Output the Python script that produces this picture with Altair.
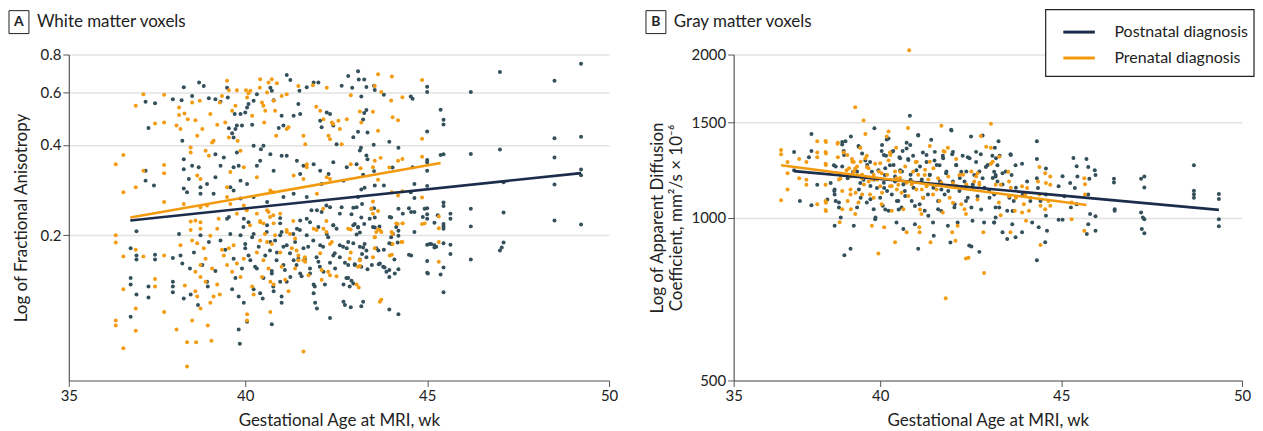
import altair as alt
import pandas as pd

FONT = "Lato"
DOT_POST = "#33505b"
DOT_PRE = "#f39c12"
LINE_POST = "#1b2d4b"
LINE_PRE = "#f29a0e"
GROUPS = ["Postnatal diagnosis", "Prenatal diagnosis"]

# Panel A - white matter voxels, (gestational age wk, fractional anisotropy)
wm_post = [
    (37.26, .557), (37.52, .550), (37.34, .455), (37.26, .328), (37.26, .304), (37.49, .293), (38.01, .568),
    (38.25, .563), (38.31, .622), (38.54, .582), (38.73, .646), (38.86, .628), (39.0, .572), (39.18, .568),
    (39.32, .557), (39.5, .620), (39.52, .575), (39.55, .454), (39.64, .437), (39.68, .423), (39.73, .452),
    (39.71, .507), (39.77, .464), (39.87, .507), (39.91, .464), (40.0, .513), (40.05, .533), (40.09, .547),
    (40.19, .467), (40.23, .561), (40.32, .590), (40.43, .387), (40.5, .397), (40.69, .620), (40.73, .606),
    (40.78, .563), (40.92, .455), (41.0, .500), (41.05, .464), (41.14, .684), (41.24, .658), (41.33, .500),
    (41.46, .547), (41.51, .507), (41.49, .606), (41.69, .622), (41.88, .646), (42.01, .646), (42.06, .481),
    (42.1, .458), (42.24, .513), (42.33, .507), (42.42, .464), (42.51, .402), (42.65, .630), (42.83, .678),
    (38.27, .413), (38.31, .358), (38.31, .332), (38.45, .308), (38.54, .341), (38.72, .337), (38.77, .289),
    (38.95, .296), (39.18, .372), (39.18, .312), (39.32, .341), (39.41, .363), (39.59, .289), (39.68, .337),
    (39.77, .377), (39.82, .341), (39.87, .304), (40.05, .296), (40.23, .397), (40.32, .341), (40.41, .354),
    (40.69, .372), (40.78, .328), (41.0, .368), (41.14, .368), (41.42, .354), (41.51, .320), (41.6, .341),
    (41.88, .345), (42.06, .328), (42.1, .296), (42.29, .320), (42.42, .350), (42.7, .304), (42.79, .337),
    (38.31, .286), (38.4, .278), (38.77, .275), (39.13, .275), (39.68, .282), (39.87, .265), (40.23, .268),
    (40.6, .258), (41.05, .268), (41.33, .275), (41.69, .268), (41.97, .242), (42.33, .248), (42.6, .236),
    (36.85, .181), (36.85, .144), (36.85, .137), (36.85, .107), (37.01, .206), (37.01, .171), (37.01, .166),
    (37.01, .127), (37.34, .135), (37.34, .124), (37.52, .172), (37.52, .166), (38.01, .168), (38.01, .140),
    (38.01, .135), (38.01, .129), (38.18, .202), (38.22, .171), (38.27, .161), (38.31, .123), (38.48, .155),
    (38.5, .127), (38.59, .175), (38.7, .117), (38.77, .200), (38.82, .159), (38.95, .140), (38.97, .135),
    (39.0, .190), (39.18, .152), (39.32, .192), (39.45, .179), (39.5, .227), (39.59, .202), (39.64, .132),
    (39.68, .167), (39.73, .144), (39.82, .125), (39.87, .200), (39.91, .155), (39.96, .119), (40.0, .181),
    (39.82, .097), (39.85, .087), (40.05, .103), (40.09, .221), (40.14, .165), (40.19, .197), (40.23, .132),
    (40.32, .155), (40.37, .183), (40.48, .123), (40.5, .144), (40.55, .171), (40.6, .216), (40.69, .190),
    (40.73, .152), (40.73, .101), (40.78, .130), (40.87, .175), (40.96, .200), (40.96, .140), (41.0, .125),
    (41.0, .119), (41.05, .159), (41.14, .185), (41.24, .145), (41.33, .165), (41.42, .210), (41.46, .167),
    (41.51, .149), (41.6, .181), (41.69, .200), (41.78, .155), (41.88, .137), (41.88, .128), (41.92, .119),
    (41.97, .114), (42.01, .163), (42.06, .185), (42.15, .151), (42.24, .202), (42.33, .106), (42.42, .171),
    (42.47, .155), (42.51, .210), (42.6, .185), (42.7, .137), (42.7, .120), (42.74, .117), (42.79, .181),
    (42.83, .159), (42.83, .144), (39.55, .230), (39.96, .227), (40.96, .228), (41.51, .224), (41.78, .221),
    (42.42, .216),
    (39.95, .213), (40.0, .187), (40.09, .171), (40.23, .202), (40.27, .157), (40.41, .128), (40.59, .205),
    (40.68, .178), (40.73, .149), (40.77, .135), (40.82, .192), (40.86, .165), (40.96, .219), (41.0, .205),
    (41.05, .183), (41.09, .153), (41.14, .140), (41.23, .174), (41.32, .202), (41.37, .190), (41.41, .159),
    (41.5, .208), (41.55, .146), (41.64, .167), (41.69, .227), (41.73, .183), (41.78, .149), (41.82, .242),
    (41.87, .192), (41.91, .135), (41.96, .169), (42.01, .213), (42.05, .157), (42.1, .239), (42.14, .183),
    (42.19, .137), (42.23, .251), (42.28, .197), (42.33, .162), (42.42, .216), (42.46, .174), (42.6, .169),
    (42.65, .248), (42.69, .183), (42.74, .162), (42.78, .144), (42.83, .190), (42.87, .135), (42.97, .216),
    (43.01, .159), (43.06, .248), (43.1, .213), (43.15, .183), (43.19, .157), (43.24, .120), (43.28, .187),
    (43.33, .169), (43.42, .227), (43.47, .245), (43.51, .213), (43.6, .181), (43.7, .161), (43.79, .157),
    (43.88, .151), (43.97, .230), (44.02, .187), (44.06, .202), (44.11, .149), (44.15, .213), (44.33, .236),
    (44.56, .171), (44.56, .239), (44.88, .230), (44.93, .245), (45.02, .149), (45.07, .187), (45.11, .187),
    (45.29, .233), (45.25, .183),
    (43.10, .704), (43.12, .661), (43.27, .661), (43.33, .624), (43.54, .630), (43.56, .609), (42.94, .620),
    (43.19, .580), (43.81, .588), (43.27, .511), (43.33, .523), (43.24, .486), (43.10, .442), (43.36, .440),
    (42.97, .424), (43.53, .400), (43.96, .410), (43.18, .391), (43.15, .383), (43.33, .369), (43.36, .358),
    (43.06, .345), (43.24, .318), (43.54, .327), (44.05, .336), (44.21, .391), (43.81, .293), (43.56, .293),
    (43.28, .288), (43.10, .268), (43.19, .284), (42.97, .247), (43.21, .254), (42.92, .235), (43.01, .218),
    (43.19, .229), (43.27, .218), (43.15, .204), (43.54, .246), (43.56, .229), (43.56, .212), (43.69, .214),
    (44.01, .229), (44.21, .245), (44.21, .207), (44.21, .199), (44.19, .189), (43.96, .188), (44.01, .197),
    (43.81, .179), (43.66, .178), (43.24, .182), (43.33, .178), (42.97, .188), (43.01, .160), (43.15, .166),
    (42.92, .141), (42.97, .138), (43.19, .116), (42.90, .115), (43.96, .153), (43.83, .156), (43.67, .160),
    (43.96, .145), (43.96, .113), (44.21, .154), (44.21, .109), (44.10, .166), (43.48, .159), (43.36, .154),
    (43.21, .173), (43.06, .201), (43.10, .212),
    (49.23, .745), (49.23, .426), (49.23, .331), (49.23, .317), (49.23, .217),
    (48.5, .654), (48.5, .421), (48.5, .363), (48.5, .295), (48.5, .224),
    (47.0, .699), (47.0, .386), (47.1, .300), (47.1, .238), (47.0, .178), (47.1, .189), (47.05, .182),
    (46.2, .600), (46.2, .373), (46.2, .245), (46.2, .214), (46.2, .166),
    (45.64, .236), (45.64, .227), (45.64, .186), (45.64, .173),
    (45.45, .468), (45.45, .485), (45.45, .372), (45.45, .257), (45.45, .250), (45.45, .218), (45.45, .214),
    (45.45, .210), (45.45, .188), (45.45, .156), (45.45, .129), (45.37, .524), (45.37, .370), (45.37, .148),
    (45.0, .625), (45.0, .600), (45.0, .443), (45.0, .356), (45.0, .350), (45.0, .328), (45.0, .292),
    (45.0, .246), (45.0, .235), (45.0, .227), (45.0, .186), (45.0, .164), (45.0, .150),
    (45.2, .220), (45.2, .185), (45.2, .182),
    (44.55, .580), (44.6, .570), (44.6, .337), (44.65, .296), (44.55, .278), (44.65, .266), (44.5, .246),
    (44.65, .239), (44.65, .205), (44.5, .172),
]

wm_pre = [
    (36.44, .345), (36.65, .370), (36.65, .278), (36.99, .540), (36.99, .289), (37.2, .590), (37.2, .328),
    (37.52, .471), (37.77, .588), (37.77, .475), (37.77, .343), (37.77, .322), (37.77, .258), (38.18, .533),
    (38.18, .503), (38.11, .464), (38.22, .452), (38.33, .509), (38.42, .487), (38.5, .392), (38.5, .377),
    (38.54, .554), (38.63, .483), (38.75, .561), (38.82, .452), (38.68, .429), (38.68, .316), (38.77, .308),
    (38.91, .382), (39.04, .507), (39.0, .368), (39.09, .407), (39.13, .413), (39.23, .467), (39.3, .554),
    (39.36, .582), (39.45, .475), (39.5, .654), (39.55, .608), (39.55, .423), (39.59, .325), (39.5, .289),
    (39.64, .520), (39.73, .540), (39.77, .608), (39.79, .413), (39.87, .382), (39.96, .337), (40.02, .608),
    (40.05, .575), (40.09, .594), (40.14, .606), (40.19, .500), (40.32, .312), (40.41, .662), (40.4, .620),
    (40.46, .554), (40.5, .540), (40.55, .520), (40.52, .475), (40.6, .598), (40.64, .646), (40.73, .662),
    (40.78, .561), (40.82, .520), (40.87, .642), (40.85, .429), (41.0, .582), (41.14, .590), (41.14, .452),
    (41.19, .458), (41.46, .628), (41.6, .429), (41.65, .402), (41.69, .337), (41.86, .632), (41.95, .536),
    (42.06, .520), (42.15, .487), (42.24, .620), (42.29, .429), (42.33, .418), (42.38, .475), (42.42, .469),
    (42.56, .481), (42.6, .452), (42.65, .402), (42.79, .487),
    (38.31, .254), (38.77, .248), (38.95, .251), (39.5, .268), (39.59, .254), (39.77, .236), (39.96, .251),
    (40.32, .236), (40.6, .242), (40.69, .282), (40.78, .278), (40.96, .236), (41.33, .316), (41.6, .308),
    (41.69, .345), (41.97, .275), (42.24, .312), (42.33, .308),
    (36.44, .200), (36.44, .189), (36.65, .170), (36.65, .132), (36.44, .104), (36.44, .100), (36.99, .179),
    (36.99, .114), (36.99, .096), (36.65, .084), (37.2, .170), (37.52, .143), (37.52, .135), (37.77, .171),
    (37.77, .111), (38.11, .097), (38.4, .088), (38.65, .088), (38.4, .073), (38.54, .104), (38.97, .100),
    (39.07, .089), (38.34, .136), (38.22, .185), (38.5, .222), (38.5, .208), (38.63, .224), (38.54, .192),
    (38.68, .188), (38.77, .221), (38.86, .181), (38.77, .210), (38.91, .167), (38.77, .159), (38.63, .151),
    (38.77, .145), (38.91, .140), (38.63, .130), (38.68, .125), (38.77, .114), (39.04, .119), (39.13, .125),
    (39.3, .127), (39.23, .137), (39.09, .155), (39.04, .199), (39.23, .210), (39.36, .179), (39.41, .171),
    (39.5, .159), (39.55, .181), (39.64, .151), (39.68, .185), (39.77, .161), (39.87, .145), (39.96, .167),
    (40.05, .109), (40.05, .104), (40.19, .135), (40.23, .127), (40.32, .175), (40.41, .192), (40.46, .145),
    (40.5, .165), (40.6, .190), (40.64, .155), (40.69, .140), (40.69, .111), (40.78, .137), (40.82, .200),
    (40.96, .175), (41.0, .157), (41.1, .142), (41.14, .205), (41.19, .130), (41.28, .181), (41.37, .155),
    (41.46, .171), (41.6, .082), (41.65, .163), (41.74, .147), (41.88, .210), (42.06, .174), (42.1, .142),
    (42.15, .210), (42.33, .147), (42.38, .190), (39.27, .227), (40.41, .221), (40.78, .219),
    (40.04, .242), (40.13, .216), (40.41, .223), (40.5, .219), (40.54, .202), (40.64, .239), (40.68, .230),
    (40.73, .187), (40.77, .233), (41.14, .208), (41.23, .202), (41.32, .223), (41.37, .195), (41.41, .178),
    (41.46, .165), (41.6, .165), (41.64, .169), (41.96, .208), (42.1, .153), (42.14, .245), (42.23, .223),
    (42.23, .205), (42.28, .151), (42.33, .187), (42.51, .146), (42.83, .210), (42.87, .167), (43.06, .137),
    (43.1, .157), (43.15, .165), (43.47, .245), (43.56, .197), (43.6, .205), (43.7, .208), (44.02, .205),
    (44.15, .219), (44.33, .219), (44.29, .190), (43.97, .171), (43.7, .120), (44.93, .219),
    (43.65, .688), (44.03, .676), (43.56, .628), (43.74, .600), (42.9, .585), (44.01, .562), (43.15, .517),
    (43.51, .516), (43.19, .475), (44.05, .494), (44.2, .483), (43.65, .446), (42.9, .345), (43.17, .334),
    (43.56, .354), (43.72, .362), (43.51, .337), (44.2, .354), (43.96, .336), (43.65, .306), (43.51, .259),
    (43.65, .241), (43.51, .236), (44.03, .278), (44.2, .271), (42.9, .209), (43.65, .209), (43.74, .205),
    (43.56, .197), (44.05, .202), (44.19, .218), (43.56, .181), (43.51, .169), (44.05, .187), (44.03, .172),
    (42.9, .175), (43.15, .165), (43.15, .158), (43.12, .134), (43.74, .122),
    (45.32, .231), (45.32, .211), (45.32, .190), (45.32, .163),
    (44.86, .658), (44.86, .419), (44.86, .365), (44.86, .267), (44.86, .218),
    (44.32, .576), (44.32, .359), (44.32, .280), (44.32, .219), (44.32, .190),
]

# Panel B - gray matter voxels, (gestational age wk, ADC mm2/s x 10^-6)
gm_post = [
    (37.62, 1321), (37.62, 1223), (37.78, 1073), (38.03, 1292), (38.1, 1426), (38.1, 1054), (38.1, 1327),
    (38.26, 1150), (38.54, 1080), (38.63, 1158), (38.72, 1249), (38.74, 1126), (38.74, 1103), (38.74, 966),
    (38.86, 1066), (38.95, 1364), (38.99, 1327), (39.01, 852), (39.04, 1383), (39.1, 1182), (39.18, 876),
    (39.19, 1412), (39.25, 1215), (39.27, 966), (39.36, 1044), (39.4, 1355), (39.45, 1158), (39.54, 1174),
    (39.59, 1274), (39.63, 1066), (39.72, 1266), (39.77, 1215), (39.82, 1036), (39.84, 1461), (39.86, 993),
    (39.91, 1134), (39.95, 1223), (40.0, 1088), (40.04, 1327), (40.07, 1051), (40.11, 1134), (40.13, 1198),
    (40.16, 1300), (40.18, 1394), (40.23, 1029), (40.27, 1249), (40.32, 1103), (40.36, 1327), (40.41, 1166),
    (40.45, 979), (40.5, 1073), (40.53, 1292), (40.55, 1223), (40.59, 1044), (40.62, 1327), (40.64, 952),
    (40.68, 1119), (40.73, 1374), (40.77, 1283), (40.82, 1541), (40.84, 1174), (40.87, 1073), (40.91, 1300),
    (40.96, 972), (41.0, 1223), (41.05, 1420), (41.05, 876), (41.09, 1058), (41.14, 1166), (41.18, 1318),
    (41.23, 1029), (41.28, 1266), (41.32, 1103), (41.37, 1198), (41.41, 1392), (41.46, 979), (41.5, 1274),
    (41.55, 1150), (41.6, 1036), (41.64, 1249), (41.69, 1126), (41.73, 1300), (41.78, 1103), (41.82, 1207),
    (41.87, 966), (41.96, 1452), (41.99, 1309), (42.01, 1166), (42.05, 1044), (42.1, 1249), (42.14, 979),
    (42.19, 1119), (42.24, 1215), (42.28, 1300), (42.33, 1166), (42.37, 1073), (42.42, 1292), (42.46, 888),
    (42.51, 1412), (42.55, 986), (42.6, 1198), (42.65, 1266), (42.69, 1095), (42.74, 864), (42.78, 1309),
    (42.83, 1182), (42.87, 979), (42.92, 1240), (43.01, 1119), (43.1, 1300), (43.15, 979), (43.19, 1198),
    (43.24, 1249), (41.48, 925), (41.94, 899), (42.52, 884),
    (38.95, 1379), (39.0, 1304), (38.95, 1242), (38.77, 1242), (38.73, 1119), (38.77, 1073), (38.86, 1043),
    (38.91, 1000), (39.41, 1351), (39.5, 1313), (39.36, 1216), (39.41, 1127), (39.46, 1088), (39.64, 1250),
    (39.73, 1143), (39.73, 1081), (39.82, 1175), (39.87, 1000), (40.05, 1361), (40.1, 1304), (40.14, 1233),
    (40.1, 1159), (40.19, 1119), (40.14, 1035), (40.23, 1399), (40.32, 1322), (40.37, 1250), (40.41, 1191),
    (40.46, 1073), (40.51, 1035), (40.55, 1286), (40.6, 1216), (40.64, 1151), (40.69, 1096), (40.73, 1341),
    (40.78, 1277), (40.83, 1361), (40.84, 1200), (40.92, 1135), (40.96, 1050), (41.05, 1418), (41.1, 1242),
    (41.15, 1175), (41.19, 1088), (41.28, 1304), (41.33, 1007), (41.37, 1200), (41.47, 1135), (41.51, 1322),
    (41.56, 1250), (41.6, 1073), (41.65, 1167), (41.69, 1028), (41.74, 1286), (41.83, 1216), (41.88, 1119),
    (41.97, 1448), (42.01, 1322), (42.06, 1058), (42.1, 1250), (42.2, 1183), (42.24, 1135), (42.38, 1216),
    (42.42, 1088), (42.47, 1286), (42.52, 1043), (42.56, 1151), (42.65, 1322), (42.74, 1216), (42.79, 1035),
    (42.83, 1418), (42.88, 1135), (42.97, 1250), (43.02, 1088), (43.11, 1183), (43.2, 1286), (43.29, 1043),
    (43.38, 1151), (43.47, 1216), (43.57, 1088), (43.61, 1304), (43.66, 1028), (43.75, 1135),
    (43.27, 1383), (43.17, 1346), (43.3, 1300), (43.15, 1215), (43.19, 1190), (43.24, 1166), (43.38, 1207),
    (43.15, 1103), (43.19, 1044), (43.15, 979), (43.19, 1000), (43.38, 939), (43.51, 1029), (43.51, 913),
    (43.6, 1309), (43.63, 1198), (43.65, 972), (43.69, 1073), (43.74, 1249), (43.74, 919), (43.92, 1257),
    (43.92, 939), (43.94, 1103), (44.06, 1166), (44.15, 1073), (44.2, 979), (44.33, 1383), (44.33, 1283),
    (44.33, 1182), (44.36, 1134), (44.38, 959), (44.43, 1073), (44.56, 900), (44.33, 834), (44.58, 1232),
    (44.58, 1103), (44.61, 945), (44.58, 1008), (44.93, 1142), (44.93, 990), (45.04, 1192), (45.04, 990),
    (45.09, 1095), (45.25, 1158), (45.27, 1044), (45.34, 1288), (45.38, 1134), (45.43, 1244), (45.43, 1058),
    (45.45, 1190), (45.7, 1283), (45.75, 1240), (45.78, 1179), (45.75, 1103), (45.8, 1015), (45.75, 972),
    (45.71, 932), (45.93, 1223), (45.95, 1198), (45.95, 945), (45.95, 1005),
    (46.46, 1179), (46.46, 1160), (46.48, 1036), (46.48, 1029),
    (47.21, 1179), (47.3, 1190), (47.3, 1136), (47.21, 1022), (47.26, 1000), (47.3, 993), (47.23, 952),
    (47.3, 935), (48.67, 1249), (48.67, 1120), (48.67, 1104), (48.67, 1088),
    (49.36, 1105), (49.36, 1082), (49.36, 993), (49.36, 963),
]

gm_pre = [
    (37.26, 1332), (37.26, 1309), (37.26, 1076), (37.44, 1266), (37.44, 1207), (37.44, 1126), (37.76, 1283),
    (37.76, 1182), (37.96, 1266), (37.96, 1174), (37.96, 1150), (38.26, 1383), (38.26, 1318), (38.26, 1292),
    (38.26, 1058), (38.49, 1385), (38.49, 1321), (38.49, 1257), (38.49, 1150), (38.49, 1073), (38.49, 1033),
    (38.83, 1374), (38.83, 1292), (38.9, 1182), (38.88, 980), (38.95, 1119), (38.95, 1036), (38.99, 1318),
    (39.07, 1223), (39.1, 1073), (39.18, 1126), (39.18, 1103), (39.22, 1283), (39.19, 1036), (39.27, 1266),
    (39.31, 1599), (39.31, 1232), (39.31, 1015), (39.36, 1198), (39.4, 1066), (39.45, 1346), (39.5, 1182),
    (39.5, 1103), (39.54, 1511), (39.59, 1426), (39.63, 1300), (39.63, 1240), (39.68, 1166), (39.72, 1103),
    (39.77, 966), (39.82, 1198), (39.86, 1257), (39.91, 1174), (39.95, 858), (40.0, 1142), (40.04, 1207),
    (40.04, 1058), (40.11, 959), (40.18, 1412), (40.23, 1442), (40.23, 1274), (40.27, 1318), (40.27, 1142),
    (40.32, 1029), (40.41, 900), (40.44, 1346), (40.45, 1182), (40.5, 1150), (40.55, 1215), (40.59, 1111),
    (40.64, 1036), (40.73, 939), (40.77, 1463), (40.87, 1166), (40.91, 1215), (40.98, 1266), (41.0, 1126),
    (41.08, 959), (41.09, 939), (41.14, 1015), (41.18, 1088), (41.23, 1198), (41.28, 1142), (41.37, 1355),
    (41.39, 900), (41.46, 1103), (41.5, 1150), (41.6, 1182), (41.64, 1073), (41.69, 1477), (41.73, 1022),
    (41.75, 1327), (41.87, 1346), (41.92, 1088), (41.99, 939), (42.01, 1158), (42.1, 1283), (42.14, 966),
    (42.19, 1198), (42.24, 1058), (42.33, 1036), (42.37, 1015), (42.37, 840), (42.44, 843), (42.55, 1134),
    (42.6, 1166), (42.69, 1207), (42.69, 1080), (42.74, 1150), (42.78, 1415), (42.85, 939), (42.87, 790),
    (43.06, 1490), (43.06, 1346), (43.06, 1257), (43.19, 1150), (40.8, 2037), (41.81, 709), (42.08, 906),
    (38.5, 1379), (38.5, 1313), (38.5, 1250), (38.5, 1065), (38.5, 1028), (38.82, 1369), (38.86, 1175),
    (39.09, 1304), (39.14, 1233), (39.18, 1191), (39.23, 1268), (39.27, 1216), (39.32, 1111), (39.36, 1242),
    (39.46, 1268), (39.5, 1200), (39.55, 1151), (39.59, 1286), (39.68, 1233), (39.78, 1175), (39.82, 1088),
    (39.96, 1216), (40.0, 1259), (40.05, 1111), (40.19, 1200), (40.28, 1304), (40.32, 1143), (40.41, 1216),
    (40.46, 1127), (40.55, 1183), (40.69, 1242), (40.73, 1159), (40.78, 1096), (40.87, 1151), (41.01, 1268),
    (41.05, 1200), (41.1, 1035), (41.15, 1127), (41.24, 1225), (41.33, 1175), (41.37, 1268), (41.47, 1233),
    (41.56, 1127), (41.69, 1159), (41.78, 1322), (41.88, 1191), (42.01, 1065), (42.1, 1143), (42.29, 1200),
    (42.38, 1151), (42.52, 1216), (42.65, 1191), (42.74, 1159), (42.93, 1351), (43.11, 1268), (43.29, 1295),
    (43.61, 1135), (43.75, 1088),
    (43.33, 1150), (43.28, 1066), (43.33, 1010), (43.54, 1215), (43.56, 1166), (43.56, 1095), (43.6, 939),
    (43.72, 1029), (43.92, 1142), (43.92, 1022), (43.97, 1058), (44.01, 1103), (44.03, 986), (44.06, 1134),
    (44.11, 1029), (44.15, 1088), (44.36, 1166), (44.4, 1240), (44.4, 1103), (44.43, 1051), (44.43, 890),
    (44.56, 1207), (44.58, 1158), (44.56, 1036), (44.65, 1073), (44.7, 1150), (44.7, 1190), (44.7, 1051),
    (45.29, 1066), (45.29, 993), (45.64, 1182), (45.66, 1152), (45.64, 945), (45.66, 1103),
]

# fitted regression lines, end points
wm_fit_post = [(36.84, 0.224), (49.23, 0.322)]
wm_fit_pre = [(36.84, 0.229), (45.37, 0.348)]
gm_fit_post = [(37.62, 1218), (49.36, 1033)]
gm_fit_pre = [(37.26, 1249), (45.70, 1055)]


def frame(post, pre):
    rows = [(g, v, GROUPS[0]) for g, v in post] + [(g, v, GROUPS[1]) for g, v in pre]
    return pd.DataFrame(rows, columns=["ga", "val", "group"])


def x_axis(first):
    return alt.Axis(values=[first, 40, 45, 50], labelExpr="datum.value < 36 ? '35' : format(datum.value, 'd')",
                    grid=False, labelFlush=False, title="Gestational Age at MRI, wk", titlePadding=9)


def panel(points, fits, xdom, ydom, yticks, yfmt, ytitle, ypad, width, letter, heading, tag_x, legend):
    xs = alt.Scale(domain=xdom, nice=False, zero=False)
    ys = alt.Scale(type="log", domain=ydom, nice=False)
    dots = alt.Chart(points).mark_circle(size=16, opacity=1).encode(
        x=alt.X("ga:Q", scale=xs, axis=x_axis(xdom[0])),
        y=alt.Y("val:Q", scale=ys, axis=alt.Axis(values=yticks, format=yfmt, labelOverlap=False,
                                                   title=ytitle, titlePadding=ypad)),
        color=alt.Color("group:N", scale=alt.Scale(domain=GROUPS, range=[DOT_POST, DOT_PRE]), legend=None),
    )
    lines = alt.Chart(fits).mark_line(strokeWidth=2.6).encode(
        x=alt.X("ga:Q", scale=xs),
        y=alt.Y("val:Q", scale=ys),
        color=alt.Color("group:N", scale=alt.Scale(domain=GROUPS, range=[LINE_POST, LINE_PRE]), legend=legend),
    )
    one = pd.DataFrame({"t": [letter]})
    box = alt.Chart(one).mark_rect(fill="white", stroke="#222", strokeWidth=1).encode(
        x=alt.value(tag_x), x2=alt.value(tag_x + 20), y=alt.value(-44), y2=alt.value(-21))
    tag = alt.Chart(one).mark_text(font=FONT, fontSize=14, fontWeight="bold", color="#222").encode(
        x=alt.value(tag_x + 10), y=alt.value(-32.5), text="t:N")
    head = alt.Chart(pd.DataFrame({"t": [heading]})).mark_text(
        font=FONT, fontSize=17, align="left", baseline="middle", color="#222").encode(
        x=alt.value(tag_x + 28), y=alt.value(-32.5), text="t:N")
    layers = [dots, lines, box, tag, head]
    return alt.layer(*layers).resolve_scale(color="independent").properties(width=width, height=327)


wm = panel(frame(wm_post, wm_pre), frame(wm_fit_post, wm_fit_pre), [35.15, 50], [0.0656, 0.8],
           [0.2, 0.4, 0.6, 0.8], ".1f", "Log of Fractional Anisotropy", 10, 542, "A",
           "White matter voxels", -60, None)

legend_box = alt.Chart(pd.DataFrame({"t": [""]})).mark_rect(fill="white", stroke="#222", strokeWidth=1.2).encode(
    x=alt.value(313), x2=alt.value(522), y=alt.value(-45), y2=alt.value(22))
gm_legend = alt.Legend(orient="none", legendX=329, legendY=-40, title=None, symbolType="stroke",
                       symbolStrokeWidth=3, symbolSize=1000, labelFontSize=16, labelFont=FONT,
                       labelOffset=18, rowPadding=0, padding=0, labelColor="#222")
gm_core = panel(frame(gm_post, gm_pre), frame(gm_fit_post, gm_fit_pre), [35.95, 50], [500, 2000],
                [500, 1000, 1500, 2000], "d",
                ["Log of Apparent Diffusion", "Coefficient, mm\u00b2/s \u00d7 10\u207b\u2076"], 6, 510, "B",
                "Gray matter voxels", -88, gm_legend)
gm = alt.layer(legend_box, gm_core).resolve_scale(color="independent")

chart = alt.hconcat(wm, gm, spacing=125, bounds="flush").resolve_scale(
    x="independent", y="independent", color="independent"
).properties(padding=0).configure_view(stroke=None).configure_axis(
    labelFont=FONT, titleFont=FONT, labelFontSize=15, titleFontSize=17, titleFontWeight="normal",
    labelColor="#222", titleColor="#222", domainColor="#555", tickColor="#555", domainWidth=1.2,
    tickSize=6, gridColor="#e3e3e3", gridWidth=1.5
).configure_axisX(grid=False)

chart.save("out.html", embed_options={"renderer": "svg", "actions": False})
